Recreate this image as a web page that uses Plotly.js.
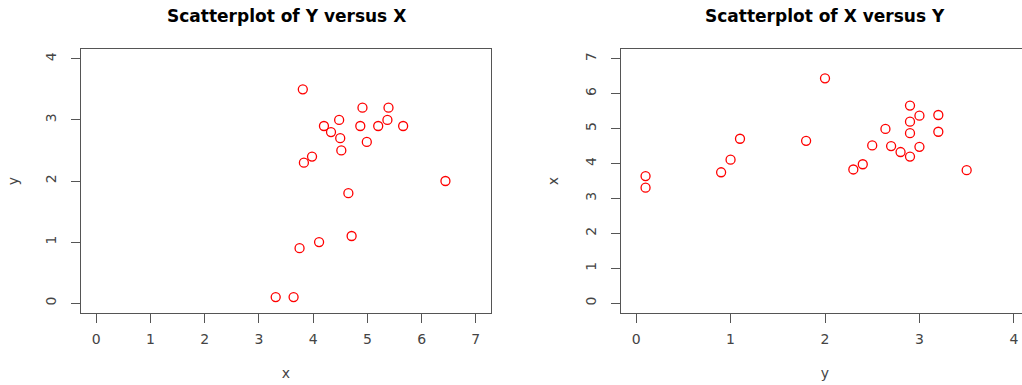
<!DOCTYPE html>
<html>
<head>
<meta charset="utf-8">
<script src="https://cdn.plot.ly/plotly-3.0.1.min.js"></script>
<style>
html, body { margin: 0; padding: 0; overflow: hidden; background: #fff; }
#chart { width: 1040px; height: 385px; }
</style>
</head>
<body>
<div id="chart"></div>
<script>
var X = [3.81, 4.91, 5.39, 4.48, 5.37, 4.20, 4.87, 5.20, 5.66, 4.33, 4.50, 4.99, 4.52, 3.98, 3.83, 6.44, 4.65, 4.71, 4.11, 3.75, 3.31, 3.64];
var Y = [3.50, 3.20, 3.20, 3.00, 3.00, 2.90, 2.90, 2.90, 2.90, 2.80, 2.70, 2.64, 2.50, 2.40, 2.30, 2.00, 1.80, 1.10, 1.00, 0.90, 0.10, 0.10];
var xTicksLeft = [0, 1, 2, 3, 4, 5, 6, 7];
var yTicksLeft = [0, 1, 2, 3, 4];
var xTicksRight = [0, 1, 2, 3, 4];
var yTicksRight = [0, 1, 2, 3, 4, 5, 6, 7];
var titleLeft = "Scatterplot of Y versus X";
var titleRight = "Scatterplot of X versus Y";

var W = 1040, H = 385;
var frame = '#555555';
var tickFont = {family: 'DejaVu Sans', size: 14, color: '#444444'};
var labFont = {family: 'DejaVu Sans', size: 14, color: '#444444'};
var marker = {symbol: 'circle-open', size: 9, color: '#ff0000', line: {color: '#ff0000', width: 1.3}};

var traces = [
  {x: X, y: Y, type: 'scatter', mode: 'markers', marker: marker, xaxis: 'x', yaxis: 'y', showlegend: false, hoverinfo: 'skip'},
  {x: Y, y: X, type: 'scatter', mode: 'markers', marker: marker, xaxis: 'x2', yaxis: 'y2', showlegend: false, hoverinfo: 'skip'}
];

function ax(range, ticks, domain, anchor, isY, title) {
  var a = {
    range: range, domain: domain, anchor: anchor,
    tickmode: 'array', tickvals: ticks, ticktext: ticks.map(String),
    ticks: 'outside', ticklen: 9, tickwidth: 1, tickcolor: frame,
    showline: true, linecolor: frame, linewidth: 1.2, mirror: true,
    showgrid: false, zeroline: false, fixedrange: true,
    tickfont: tickFont, automargin: false,
    ticklabelstandoff: isY ? 9 : 4,
    title: {text: title, font: labFont, standoff: isY ? 21 : 22}
  };
  if (isY) a.tickangle = -90;
  else a.tickangle = 0;
  return a;
}

var yDom = [72 / H, 336 / H];
var layout = {
  width: W, height: H,
  margin: {l: 0, r: 0, t: 0, b: 0},
  paper_bgcolor: '#ffffff', plot_bgcolor: '#ffffff',
  hovermode: false,
  xaxis: ax([-0.28, 7.28], xTicksLeft, [81 / W, 491 / W], 'y', false, 'x'),
  yaxis: ax([-0.16, 4.16], yTicksLeft, yDom, 'x', true, 'y'),
  xaxis2: ax([-0.16, 4.16], xTicksRight, [621 / W, 1029 / W], 'y2', false, 'y'),
  yaxis2: ax([-0.28, 7.28], yTicksRight, yDom, 'x2', true, 'x'),
  annotations: [
    {text: titleLeft, xref: 'paper', yref: 'paper', x: 286 / W, y: 1 - 16 / H, xanchor: 'center', yanchor: 'middle', showarrow: false,
     font: {family: 'DejaVu Sans', size: 17, color: '#000000', weight: 'bold'}},
    {text: titleRight, xref: 'paper', yref: 'paper', x: 825 / W, y: 1 - 16 / H, xanchor: 'center', yanchor: 'middle', showarrow: false,
     font: {family: 'DejaVu Sans', size: 17, color: '#000000', weight: 'bold'}}
  ]
};

Plotly.newPlot('chart', traces, layout, {displayModeBar: false, staticPlot: true});
</script>
</body>
</html>
